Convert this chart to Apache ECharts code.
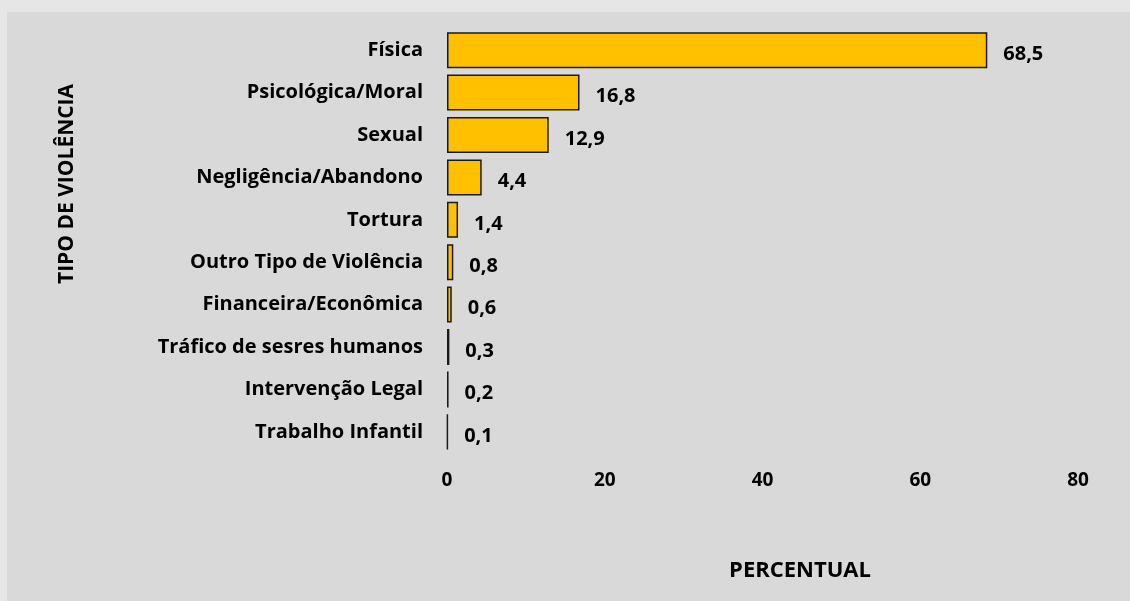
<!DOCTYPE html>
<html>
<head>
<meta charset="utf-8">
<script src="https://cdn.jsdelivr.net/npm/echarts@6/dist/echarts.min.js"></script>
<style>
  html, body { margin: 0; padding: 0; background: #e6e6e6; }
  #chart { width: 1130px; height: 601px; }
</style>
</head>
<body>
<div id="chart"></div>
<script>
// tipos de violência, de cima para baixo
const categories = [
  "Física",
  "Psicológica/Moral",
  "Sexual",
  "Negligência/Abandono",
  "Tortura",
  "Outro Tipo de Violência",
  "Financeira/Econômica",
  "Tráfico de sesres humanos",
  "Intervenção Legal",
  "Trabalho Infantil",
];
const percentual = [68.5, 16.8, 12.9, 4.4, 1.4, 0.8, 0.6, 0.3, 0.2, 0.1];
const xTicks = [0, 20, 40, 60, 80];

const font = "'Open Sans', 'Noto Sans', sans-serif";

const chart = echarts.init(document.getElementById("chart"));
const option = {
  backgroundColor: "#e6e6e6",
  textStyle: { fontFamily: font },
  graphic: [
    {
      type: "rect",
      left: 7,
      top: 12,
      shape: { width: 1123, height: 589 },
      style: { fill: "#d9d9d9" },
      z: -10,
    },
    {
      type: "text",
      x: 800,
      y: 571,
      style: {
        text: "PERCENTUAL",
        font: "bold 22px " + font,
        fill: "#000",
        align: "center",
        verticalAlign: "middle",
      },
    },
    {
      type: "text",
      x: 67,
      y: 184,
      rotation: Math.PI / 2,
      style: {
        text: "TIPO DE VIOLÊNCIA",
        font: "bold 21px " + font,
        fill: "#000",
        align: "center",
        verticalAlign: "middle",
      },
    },
  ],
  grid: {
    left: 447,
    right: 52,
    top: 29,
    bottom: 148,
    containLabel: false,
  },
  xAxis: {
    type: "value",
    min: xTicks[0],
    max: xTicks[xTicks.length - 1],
    interval: 20,
    axisLine: { show: false },
    axisTick: { show: false },
    splitLine: { show: false },
    axisLabel: {
      margin: 18,
      color: "#000",
      fontWeight: "bold",
      fontSize: 19,
      fontFamily: font,
    },
  },
  yAxis: {
    type: "category",
    inverse: true,
    data: categories,
    axisLine: { show: false },
    axisTick: { show: false },
    axisLabel: {
      margin: 24,
      color: "#000",
      fontWeight: "bold",
      fontSize: 20,
      fontFamily: font,
    },
  },
  series: [
    {
      type: "bar",
      data: percentual,
      barCategoryGap: "15%",
      itemStyle: {
        color: "#ffc000",
        borderColor: "#1a1a1a",
        borderWidth: 1.5,
      },
      label: {
        show: true,
        position: "right",
        distance: 16,
        offset: [0, 4],
        color: "#000",
        fontWeight: "bold",
        fontSize: 20,
        fontFamily: font,
        formatter: (p) => p.value.toFixed(1).replace(".", ","),
      },
    },
  ],
};
chart.setOption(option);
</script>
</body>
</html>
